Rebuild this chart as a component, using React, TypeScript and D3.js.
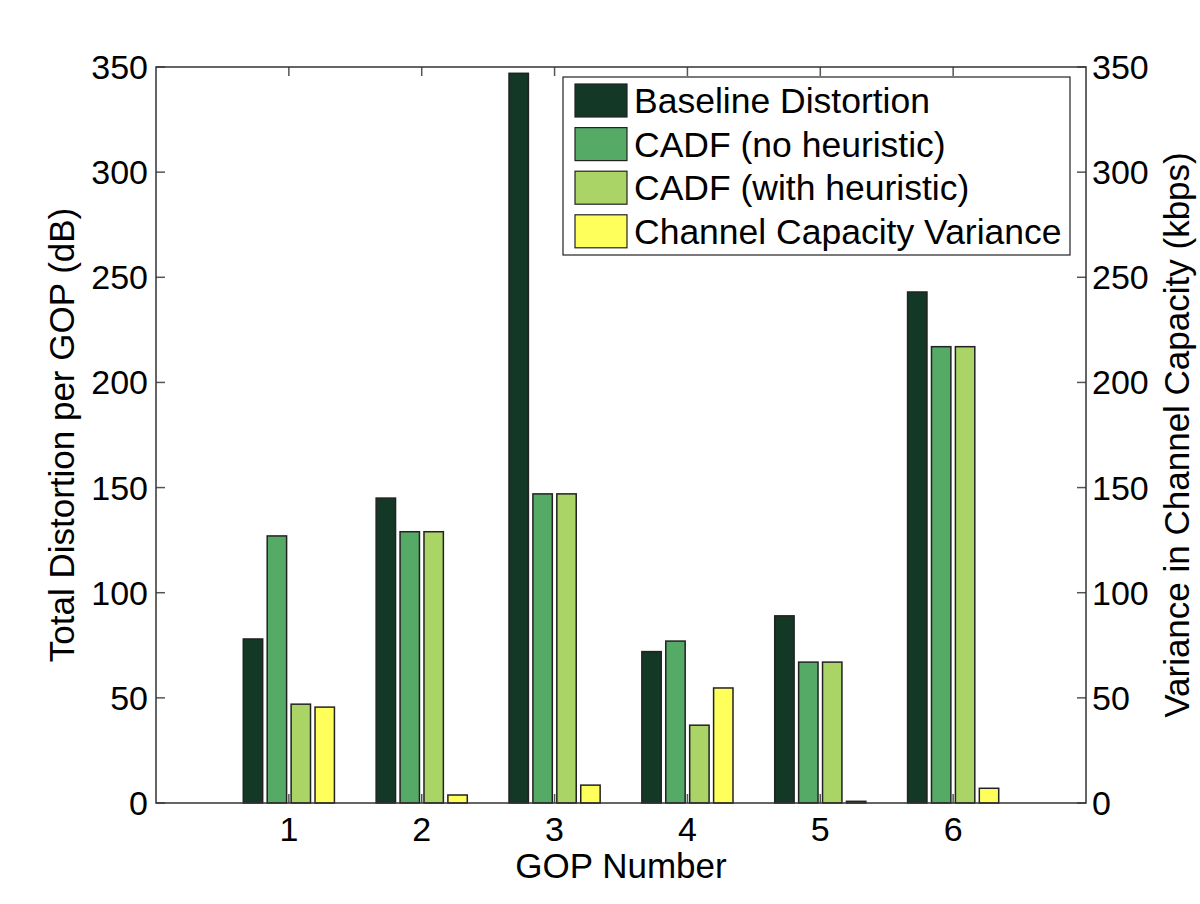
import React from "react";
import * as d3 from "d3";

const categories = [1, 2, 3, 4, 5, 6];
const baseline = [78, 145, 347, 72, 89, 243];
const cadfNo = [127, 129, 147, 77, 67, 217];
const cadfWith = [47, 129, 147, 37, 67, 217];
const capVariance = [45.6, 3.8, 8.5, 54.7, 0.8, 7];
const seriesNames = [
  "Baseline Distortion",
  "CADF (no heuristic)",
  "CADF (with heuristic)",
  "Channel Capacity Variance",
];
const seriesColors = ["#133826", "#55aa66", "#aad466", "#ffff5c"];
const yTicks = [0, 50, 100, 150, 200, 250, 300, 350];

const W = 1200;
const H = 904;
const L = 156;
const R = 1086;
const T = 67;
const B = 803;
const FONT = "'Liberation Sans', Arial, Helvetica, sans-serif";

export default function App() {
  const x = d3.scaleLinear().domain([0, 7]).range([L, R]);
  const yL = d3.scaleLinear().domain([0, 350]).range([B, T]);
  const yR = d3.scaleLinear().domain([0, 350]).range([B, T]);
  const series = [baseline, cadfNo, cadfWith, capVariance];
  const offsets = [-0.27, -0.09, 0.09, 0.27];
  const barW = 0.146;
  const tickLen = 9;

  return (
    <svg
      width={W}
      height={H}
      style={{ position: "absolute", left: 0, top: 0, background: "#fff" }}
      fontFamily={FONT}
    >
      <rect x={0} y={0} width={W} height={H} fill="#fff" />
      {/* bars */}
      {series.map((vals, si) =>
        vals.map((v, ci) => {
          const scale = si === 3 ? yR : yL;
          const cx = x(categories[ci] + offsets[si]);
          const w = x(barW) - x(0);
          return (
            <rect
              key={`b-${si}-${ci}`}
              x={cx - w / 2}
              y={scale(v)}
              width={w}
              height={B - scale(v)}
              fill={seriesColors[si]}
              stroke="#222"
              strokeWidth={1.5}
            />
          );
        })
      )}
      {/* x ticks bottom and top */}
      {categories.map((c) => (
        <g key={`xt-${c}`}>
          <line x1={x(c)} x2={x(c)} y1={B} y2={B - tickLen} stroke="#555" strokeWidth={1.5} />
          <line x1={x(c)} x2={x(c)} y1={T} y2={T + tickLen} stroke="#555" strokeWidth={1.5} />
          <text x={x(c)} y={841} textAnchor="middle" fontSize={34} fill="#000">
            {c}
          </text>
        </g>
      ))}
      {/* y ticks left and right */}
      {yTicks.map((t) => (
        <g key={`yt-${t}`}>
          <line x1={L} x2={L + tickLen} y1={yL(t)} y2={yL(t)} stroke="#555" strokeWidth={1.5} />
          <line x1={R} x2={R - tickLen} y1={yR(t)} y2={yR(t)} stroke="#555" strokeWidth={1.5} />
          <text x={148} y={yL(t) + 12} textAnchor="end" fontSize={34} fill="#000">
            {t}
          </text>
          <text x={1092} y={yR(t) + 12} textAnchor="start" fontSize={34} fill="#000">
            {t}
          </text>
        </g>
      ))}
      {/* frame */}
      <rect x={L} y={T} width={R - L} height={B - T} fill="none" stroke="#333" strokeWidth={1.5} />
      {/* axis labels */}
      <text x={621} y={878} textAnchor="middle" fontSize={35} fill="#000">
        GOP Number
      </text>
      <text
        transform={`translate(74, ${(T + B) / 2}) rotate(-90)`}
        textAnchor="middle"
        fontSize={35}
        fill="#000"
      >
        Total Distortion per GOP (dB)
      </text>
      <text
        transform={`translate(1189, ${(T + B) / 2}) rotate(-90)`}
        textAnchor="middle"
        fontSize={35}
        fill="#000"
      >
        Variance in Channel Capacity (kbps)
      </text>
      {/* legend */}
      <g>
        <rect x={563} y={77} width={507} height={178} fill="#fff" stroke="#222" strokeWidth={1.2} />
        {seriesNames.map((name, i) => {
          const cy = 100.5 + i * 43.6;
          return (
            <g key={`lg-${i}`}>
              <rect
                x={575}
                y={cy - 16.5}
                width={52}
                height={33}
                fill={seriesColors[i]}
                stroke="#222"
                strokeWidth={1.2}
              />
              <text x={634} y={cy + 12.5} fontSize={35.5} fill="#000">
                {name}
              </text>
            </g>
          );
        })}
      </g>
    </svg>
  );
}
